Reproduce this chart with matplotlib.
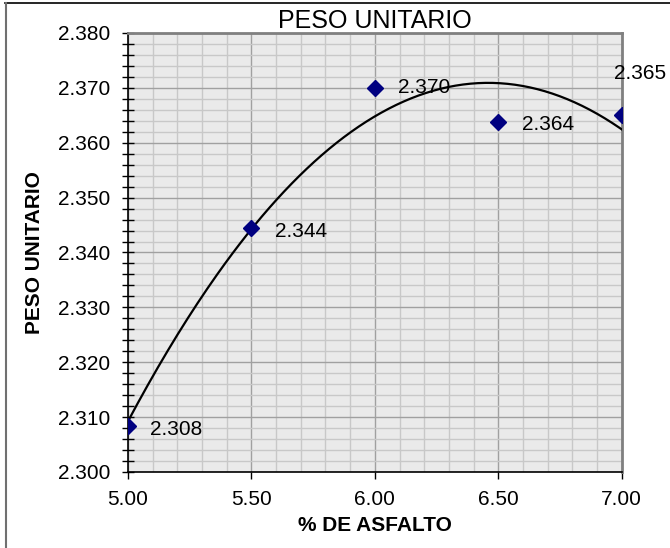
import numpy as np
import matplotlib.pyplot as plt
from matplotlib.ticker import MultipleLocator, FormatStrFormatter
from matplotlib.lines import Line2D

plt.rcParams['font.family'] = ['Liberation Sans', 'DejaVu Sans']

asfalto = [5.00, 5.50, 6.00, 6.50, 7.00]
peso = [2.3083, 2.3444, 2.3700, 2.3638, 2.3651]
etiquetas = ['2.308', '2.344', '2.370', '2.364', '2.365']
offsets = [(16, -2), (17, -2), (17, 0), (17, -2), (13, 30)]
alineacion = ['left', 'left', 'left', 'left', 'center']

fig = plt.figure(figsize=(6.7, 5.48), dpi=100)
ax = fig.add_axes([0.191, 0.1387, 0.737, 0.8011])
ax.set_facecolor('#EAEAEA')

# linea de tendencia polinomica
coef = np.polyfit(asfalto, peso, 2)
xs = np.linspace(5.0, 7.0, 200)
ax.plot(xs, np.polyval(coef, xs), color='black', lw=1.6, zorder=3)

ax.plot(asfalto, peso, linestyle='none', marker='D', color='#000080',
        markersize=8, zorder=4)
for x, y, t, off, ha in zip(asfalto, peso, etiquetas, offsets, alineacion):
    ax.annotate(t, (x, y), xytext=off, textcoords='offset points',
                fontsize=15, va='center', ha=ha, zorder=5)

ax.set_xlim(5.0, 7.0)
ax.set_ylim(2.300, 2.380)
ax.xaxis.set_major_locator(MultipleLocator(0.5))
ax.xaxis.set_minor_locator(MultipleLocator(0.1))
ax.yaxis.set_major_locator(MultipleLocator(0.01))
ax.yaxis.set_minor_locator(MultipleLocator(0.002))
ax.xaxis.set_major_formatter(FormatStrFormatter('%.2f'))
ax.yaxis.set_major_formatter(FormatStrFormatter('%.3f'))

ax.grid(which='major', color='#A0A0A0', lw=1.0)
ax.grid(which='minor', color='#C8C8C8', lw=1.0)
ax.set_axisbelow(True)

ax.tick_params(axis='y', which='both', direction='inout', length=9, width=1,
               labelsize=15, pad=8)
ax.tick_params(axis='x', which='major', direction='out', length=5, width=1,
               labelsize=15, pad=8)
ax.tick_params(axis='x', which='minor', length=0)

for s in ['left', 'bottom']:
    ax.spines[s].set_color('black')
    ax.spines[s].set_linewidth(1.2)
for s in ['top', 'right']:
    ax.spines[s].set_color('#808080')
    ax.spines[s].set_linewidth(2)

ax.set_title('PESO UNITARIO', fontsize=18, pad=0)
ax.set_xlabel('% DE ASFALTO', fontsize=15, fontweight='bold', labelpad=5)
ax.set_ylabel('PESO UNITARIO', fontsize=15, fontweight='bold', labelpad=10)

# borde del area del grafico
fig.add_artist(Line2D([5/670, 1], [1 - 3/548, 1 - 3/548], color='black', lw=1.2))
fig.add_artist(Line2D([5.5/670, 5.5/670], [0, 1 - 3/548], color='#707070', lw=1.5))

fig.savefig('out.png', dpi=100)
